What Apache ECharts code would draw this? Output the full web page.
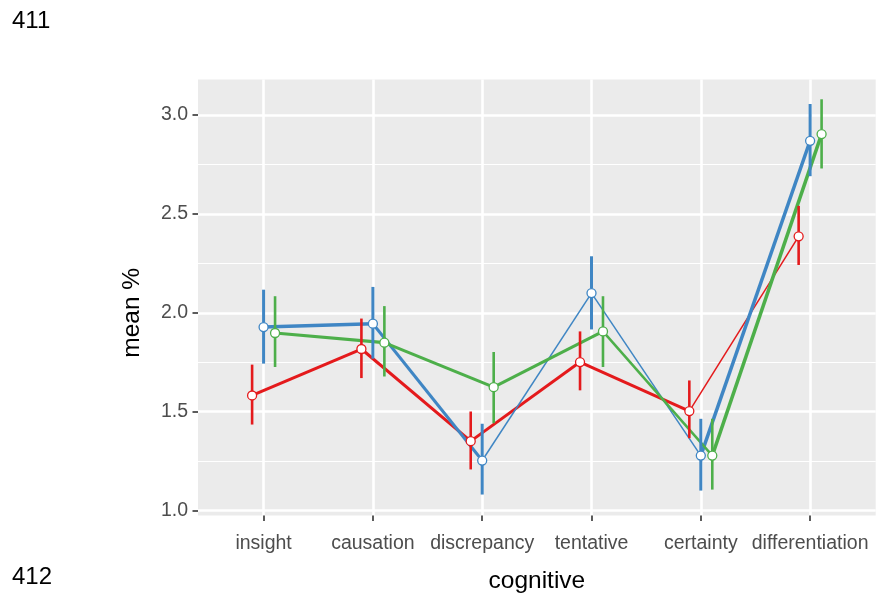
<!DOCTYPE html>
<html>
<head>
<meta charset="utf-8">
<script src="https://cdn.jsdelivr.net/npm/echarts@6/dist/echarts.min.js"></script>
<style>
html,body{margin:0;padding:0;background:#fff;}
#chart{width:881px;height:599px;}
</style>
</head>
<body>
<div id="chart"></div>
<script>
// ---- data ----
const categories = ['insight', 'causation', 'discrepancy', 'tentative', 'certainty', 'differentiation'];
const yTicks = [1.0, 1.5, 2.0, 2.5, 3.0];

const redMean  = [1.582, 1.817, 1.351, 1.751, 1.503, 2.387];
const redLow   = [1.435, 1.670, 1.208, 1.608, 1.366, 2.242];
const redHigh  = [1.738, 1.971, 1.501, 1.906, 1.658, 2.541];

const blueMean = [1.928, 1.945, 1.253, 2.100, 1.278, 2.870];
const blueLow  = [1.743, 1.768, 1.081, 1.916, 1.101, 2.691];
const blueHigh = [2.117, 2.131, 1.439, 2.286, 1.464, 3.056];

const greenMean = [1.898, 1.849, 1.624, 1.906, 1.278, 2.904];
const greenLow  = [1.726, 1.678, 1.442, 1.726, 1.106, 2.730];
const greenHigh = [2.084, 2.034, 1.802, 2.084, 1.464, 3.080];

// ---- styles ----
const groups = [
  { mean: redMean, low: redLow, high: redHigh, color: '#E41A1C', dodge: -0.105, segW: [3, 3, 3, 3, 1.5], barW: 2.6 },
  { mean: blueMean, low: blueLow, high: blueHigh, color: '#3F86C4', dodge: 0, segW: [3.5, 3, 1.5, 1.5, 3.5], barW: 3 },
  { mean: greenMean, low: greenLow, high: greenHigh, color: '#4DAF4A', dodge: 0.105, segW: [3.2, 3, 3, 2.5, 3.5], barW: 2.6 }
];

const FONT = '"Liberation Sans", Arial, sans-serif';
const PANEL = { left: 198, right: 881 - 875.7, top: 79.5, bottom: 599 - 515.5 };
const YMIN = 0.975, YMAX = 3.18;
const panelH = 599 - PANEL.top - PANEL.bottom;
const yPx = v => PANEL.top + (YMAX - v) / (YMAX - YMIN) * panelH;
const catStep = (875.7 - 198) / 6.2;
const xLeft = 198 + 0.6 * catStep, xRight = 198 + 5.6 * catStep;

const series = [];
groups.forEach(g => {
  series.push({
    type: 'custom', xAxisIndex: 2, yAxisIndex: 2, clip: false, silent: true,
    data: g.mean.map((m, i) => [i, m]),
    renderItem: (params, api) => {
      const i = api.value(0);
      if (i >= g.mean.length - 1) return null;
      const p0 = api.coord([i + g.dodge, api.value(1)]);
      const p1 = api.coord([i + 1 + g.dodge, g.mean[i + 1]]);
      return { type: 'line', shape: { x1: p0[0], y1: p0[1], x2: p1[0], y2: p1[1] },
        style: { stroke: g.color, lineWidth: g.segW[i], lineCap: 'butt' } };
    }
  });
});
groups.forEach(g => {
  series.push({
    type: 'custom', xAxisIndex: 2, yAxisIndex: 2, clip: false, silent: true,
    data: g.mean.map((m, i) => [i, g.low[i], g.high[i]]),
    renderItem: (params, api) => {
      const i = api.value(0);
      const a = api.coord([i + g.dodge, api.value(1)]);
      const b = api.coord([i + g.dodge, api.value(2)]);
      return { type: 'line', shape: { x1: a[0], y1: a[1], x2: b[0], y2: b[1] },
        style: { stroke: g.color, lineWidth: g.barW, lineCap: 'butt' } };
    }
  });
});
groups.forEach(g => {
  series.push({
    type: 'custom', xAxisIndex: 2, yAxisIndex: 2, clip: false, silent: true,
    data: g.mean.map((m, i) => [i, m]),
    renderItem: (params, api) => {
      const p = api.coord([api.value(0) + g.dodge, api.value(1)]);
      return { type: 'circle', shape: { cx: p[0], cy: p[1], r: 4.5 },
        style: { fill: '#ffffff', stroke: g.color, lineWidth: 1.3 } };
    }
  });
});

const chart = echarts.init(document.getElementById('chart'), null, { renderer: 'canvas' });
chart.setOption({
  animation: false,
  backgroundColor: '#ffffff',
  graphic: [
    { type: 'text', left: 12, top: 9, style: { text: '411', font: '24px ' + FONT, fill: '#000' } },
    { type: 'text', left: 12, top: 565, style: { text: '412', font: '24px ' + FONT, fill: '#000' } }
  ],
  grid: [
    { left: PANEL.left, right: PANEL.right, top: PANEL.top, bottom: PANEL.bottom, show: true,
      backgroundColor: '#EBEBEB', borderWidth: 0 },
    { left: PANEL.left, right: PANEL.right, top: yPx(3.0), bottom: 599 - yPx(1.0) },
    { left: xLeft, right: 881 - xRight, top: PANEL.top, bottom: PANEL.bottom }
  ],
  xAxis: [
    { gridIndex: 0, type: 'value', min: 0, max: 1, show: false },
    { gridIndex: 1, type: 'value', min: 0, max: 1, show: false },
    { gridIndex: 2, type: 'value', min: 0, max: categories.length - 1, interval: 1,
      name: 'cognitive', nameLocation: 'middle', nameGap: 53,
      nameTextStyle: { fontFamily: FONT, fontSize: 24.5, color: '#000' },
      axisLine: { show: false },
      axisTick: { show: true, length: 5.5, lineStyle: { color: '#333333', width: 1.6 } },
      axisLabel: { margin: 18, fontFamily: FONT, fontSize: 19.5, color: '#4D4D4D',
        formatter: v => categories[Math.round(v)] || '' },
      splitLine: { show: true, lineStyle: { color: '#ffffff', width: 2.6 } }
    }
  ],
  yAxis: [
    { gridIndex: 0, type: 'value', min: 0, max: 1, show: false },
    { gridIndex: 1, type: 'value', min: yTicks[0], max: yTicks[yTicks.length - 1], interval: 0.5,
      name: 'mean %', nameLocation: 'middle', nameGap: 53,
      nameTextStyle: { fontFamily: FONT, fontSize: 24.5, color: '#000' },
      axisLine: { show: false },
      axisTick: { show: true, length: 5.5, lineStyle: { color: '#333333', width: 1.6 } },
      axisLabel: { margin: 10, fontFamily: FONT, fontSize: 19.5, color: '#4D4D4D',
        formatter: v => v.toFixed(1) },
      splitLine: { show: true, lineStyle: { color: '#ffffff', width: 2.6 } },
      minorTick: { show: false, splitNumber: 2 },
      minorSplitLine: { show: true, lineStyle: { color: '#ffffff', width: 1.2 } }
    },
    { gridIndex: 2, type: 'value', min: YMIN, max: YMAX, show: false }
  ],
  series: series
});
</script>
</body>
</html>
